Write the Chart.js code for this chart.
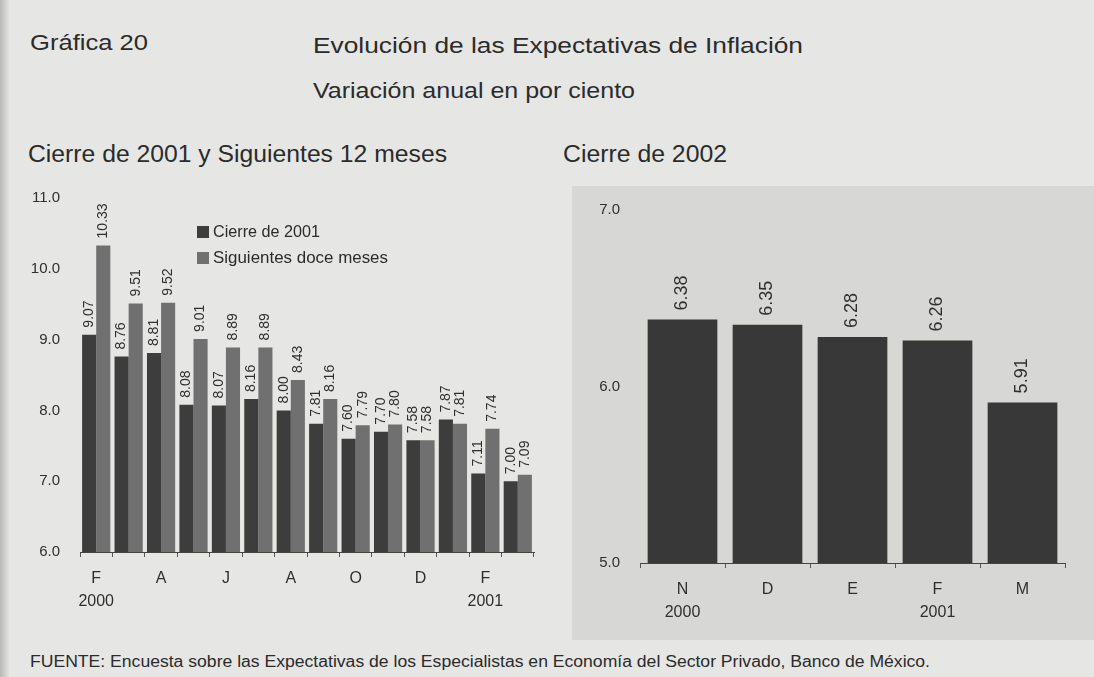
<!DOCTYPE html>
<html lang="es">
<head>
<meta charset="utf-8">
<script src="https://cdn.jsdelivr.net/npm/chart.js@4.4.1/dist/chart.umd.min.js"></script>
<style>
  body {
    margin: 0;
    width: 1094px;
    height: 677px;
    background: #e6e6e4;
    font-family: "Liberation Sans", Arial, sans-serif;
    color: #2b2b2b;
    position: relative;
    overflow: hidden;
  }
  .txt {
    position: absolute;
    white-space: nowrap;
    line-height: 1;
    transform-origin: left center;
  }
  .panel-gris {
    position: absolute;
    left: 572px; top: 186px;
    width: 522px; height: 454px;
    background: #d7d7d5;
  }
  .sombra {
    position: absolute;
    left: 0; top: 0; width: 10px; height: 677px;
    background: linear-gradient(to right, #b9b9b7, #e6e6e4);
  }
  .leyenda-caja {
    position: absolute;
    width: 12px; height: 12px;
  }
  canvas { position: absolute; }
</style>
</head>
<body>
<div class="sombra"></div>
<div class="panel-gris"></div>

<div class="txt" style="left:30px; top:32px; font-size:22px;" data-w="118">Gráfica 20</div>
<div class="txt" style="left:313px; top:35px; font-size:22px;" data-w="490">Evolución de las Expectativas de Inflación</div>
<div class="txt" style="left:313px; top:80px; font-size:22px;" data-w="322">Variación anual en por ciento</div>
<div class="txt" style="left:28px; top:143px; font-size:23px;" data-w="419">Cierre de 2001 y Siguientes 12 meses</div>
<div class="txt" style="left:563px; top:143px; font-size:23px;" data-w="164">Cierre de 2002</div>
<div class="txt" style="left:30px; top:654px; font-size:16px;" data-w="900">FUENTE:  Encuesta sobre las Expectativas de los Especialistas en Economía del Sector Privado, Banco de México.</div>

<canvas id="graficaIzq" width="560" height="460" style="left:0; top:170px;"></canvas>
<canvas id="graficaDer" width="534" height="470" style="left:560px; top:170px;"></canvas>

<div class="leyenda-caja" style="left:197px; top:226px; background:#3d3d3d;"></div>
<div class="txt" style="left:213px; top:223px; font-size:17px;" data-w="107">Cierre de 2001</div>
<div class="leyenda-caja" style="left:197px; top:252px; background:#707070;"></div>
<div class="txt" style="left:213px; top:249px; font-size:17px;" data-w="175">Siguientes doce meses</div>

<script>
// ===============================
// Datos
// ===============================
const mesesIzq = ['F', 'M', 'A', 'M', 'J', 'J', 'A', 'S', 'O', 'N', 'D', 'E', 'F', 'M'];
const aniosIzq = ['2000', '', '', '', '', '', '', '', '', '', '', '', '2001', ''];
const cierre2001 = [9.07, 8.76, 8.81, 8.08, 8.07, 8.16, 8.00, 7.81, 7.60, 7.70, 7.58, 7.87, 7.11, 7.00];
const siguientes12 = [10.33, 9.51, 9.52, 9.01, 8.89, 8.89, 8.43, 8.16, 7.79, 7.80, 7.58, 7.81, 7.74, 7.09];

const mesesDer = ['N', 'D', 'E', 'F', 'M'];
const aniosDer = ['2000', '', '', '2001', ''];
const cierre2002 = [6.38, 6.35, 6.28, 6.26, 5.91];

const colorTexto = '#2f2f2f';

// ===============================
// Ajustar ancho de los textos
// ===============================
document.querySelectorAll('.txt').forEach(el => {
    const w = Number(el.dataset.w);
    const actual = el.getBoundingClientRect().width;
    if (w && actual) el.style.transform = `scaleX(${w / actual})`;
});

// ===============================
// Etiquetas verticales sobre las barras
// ===============================
const etiquetasVerticales = {
    id: 'etiquetasVerticales',
    afterDatasetsDraw(chart, args, opts) {
        const ctx = chart.ctx;
        ctx.save();
        ctx.font = opts.font;
        ctx.fillStyle = opts.color;
        ctx.textAlign = 'left';
        ctx.textBaseline = 'middle';
        chart.data.datasets.forEach((ds, i) => {
            chart.getDatasetMeta(i).data.forEach((bar, j) => {
                ctx.save();
                ctx.translate(bar.x, bar.y - opts.gap);
                ctx.rotate(-Math.PI / 2);
                ctx.fillText(ds.data[j].toFixed(2), 0, 0);
                ctx.restore();
            });
        });
        ctx.restore();
    }
};

function ejeX(meses, anios, soloPares, alto) {
    return {
        type: 'category',
        offset: true,
        grid: {
            display: true,
            drawOnChartArea: false,
            drawTicks: true,
            tickLength: 5,
            color: '#555'
        },
        border: { display: true, color: '#444', width: 1 },
        ticks: {
            autoSkip: false,
            maxRotation: 0,
            padding: 10,
            color: colorTexto,
            font: { family: 'Liberation Sans', size: 16, lineHeight: 1.45 },
            callback: (value, index) => {
                if (soloPares && index % 2 !== 0) return '';
                return anios[index] ? [meses[index], anios[index]] : meses[index];
            }
        },
        afterFit: scale => { scale.height = alto; }
    };
}

function ejeY(min, max, ancho) {
    return {
        min: min,
        max: max,
        grid: { display: false },
        border: { display: false },
        ticks: {
            stepSize: 1,
            padding: 12,
            color: colorTexto,
            font: { family: 'Liberation Sans', size: 15 },
            callback: v => Number(v).toFixed(1)
        },
        afterFit: scale => { scale.width = ancho; }
    };
}

// ===============================
// Gráfica izquierda
// ===============================
new Chart(document.getElementById('graficaIzq'), {
    type: 'bar',
    data: {
        labels: mesesIzq,
        datasets: [
            {
                label: 'Cierre de 2001',
                data: cierre2001,
                backgroundColor: '#3d3d3d',
                categoryPercentage: 0.87,
                barPercentage: 1.0
            },
            {
                label: 'Siguientes doce meses',
                data: siguientes12,
                backgroundColor: '#707070',
                categoryPercentage: 0.87,
                barPercentage: 1.0
            }
        ]
    },
    options: {
        responsive: false,
        animation: false,
        layout: { padding: { top: 28, right: 26, left: 0, bottom: 0 } },
        plugins: {
            legend: { display: false },
            tooltip: { enabled: false },
            etiquetasVerticales: { font: '14px "Liberation Sans"', color: colorTexto, gap: 7 }
        },
        scales: {
            x: ejeX(mesesIzq, aniosIzq, true, 78),
            y: ejeY(6, 11, 80)
        }
    },
    plugins: [etiquetasVerticales]
});

// ===============================
// Gráfica derecha
// ===============================
new Chart(document.getElementById('graficaDer'), {
    type: 'bar',
    data: {
        labels: mesesDer,
        datasets: [
            {
                label: 'Cierre de 2002',
                data: cierre2002,
                backgroundColor: '#383838',
                categoryPercentage: 1.0,
                barPercentage: 0.82
            }
        ]
    },
    options: {
        responsive: false,
        animation: false,
        layout: { padding: { top: 40, right: 29, left: 0, bottom: 0 } },
        plugins: {
            legend: { display: false },
            tooltip: { enabled: false },
            etiquetasVerticales: { font: '18px "Liberation Sans"', color: colorTexto, gap: 9 }
        },
        scales: {
            x: ejeX(mesesDer, aniosDer, false, 77),
            y: ejeY(5, 7, 80)
        }
    },
    plugins: [etiquetasVerticales]
});
</script>
</body>
</html>
